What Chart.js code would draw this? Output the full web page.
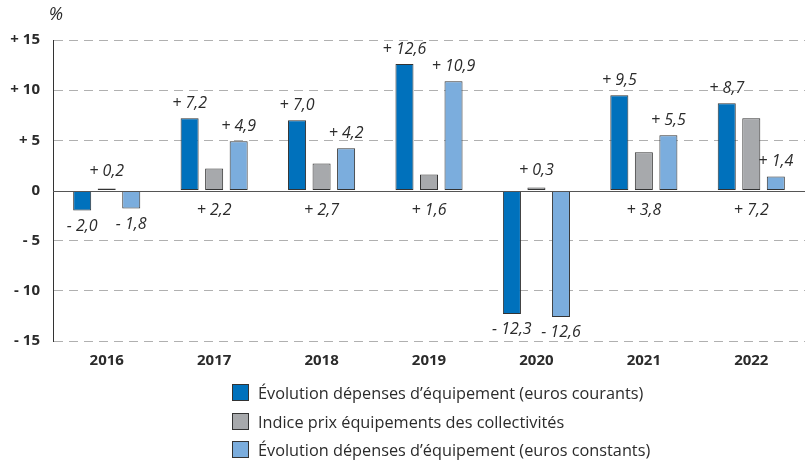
<!DOCTYPE html>
<html><head><meta charset="utf-8">
<script src="https://cdn.jsdelivr.net/npm/chart.js@4"></script>
<style>html,body{margin:0;padding:0;background:#fff}#wrap{position:relative;width:810px;height:463px}</style>
</head><body><div id="wrap"><canvas id="c" width="810" height="463"></canvas></div>
<script>
const categories = ['2016','2017','2018','2019','2020','2021','2022'];
const depCourants = [-2.0, 7.2, 7.0, 12.6, -12.3, 9.5, 8.7];
const indicePrix = [0.2, 2.2, 2.7, 1.6, 0.3, 3.8, 7.2];
const depConstants = [-1.8, 4.9, 4.2, 10.9, -12.6, 5.5, 1.4];
const seriesNames = ['Évolution dépenses d’équipement (euros courants)','Indice prix équipements des collectivités','Évolution dépenses d’équipement (euros constants)'];
const yTicks = [-15,-10,-5,0,5,10,15];
const colors = ['#0071BC','#A7A9AC','#7BADDD'];
const FONT = '"Open Sans", sans-serif';
const TXT = '#2b2b2b';

function fmt(v){ const s = Math.abs(v).toFixed(1).replace('.',','); return (v<0?'- ':'+ ')+s; }
function fmtTick(v){ return v>0?'+ '+v:(v<0?'- '+Math.abs(v):'0'); }

const labelPlugin = {
  id:'labels',
  afterDatasetsDraw(chart){
    const ctx = chart.ctx, y0 = chart.scales.y.getPixelForValue(0);
    ctx.save();
    ctx.strokeStyle='#555'; ctx.lineWidth=1; ctx.setLineDash([]);
    ctx.beginPath(); ctx.moveTo(chart.chartArea.left, Math.round(y0)+0.5); ctx.lineTo(chart.chartArea.right, Math.round(y0)+0.5); ctx.stroke();
    ctx.font = 'italic 16px '+FONT; ctx.fillStyle = TXT; ctx.textAlign='center'; ctx.textBaseline='middle';
    chart.data.datasets.forEach((ds,di)=>{
      const meta = chart.getDatasetMeta(di);
      meta.data.forEach((bar,i)=>{
        const v = ds.data[i];
        let y;
        if(di===1){
          const anyNeg = chart.data.datasets.some(d=>d.data[i]<0);
          y = anyNeg ? bar.y-17 : y0+20;
        } else {
          y = v>=0 ? bar.y-15 : bar.y+16;
        }
        ctx.fillText(fmt(v), bar.x, y);
      });
    });
    ctx.font='italic 18px '+FONT; ctx.fillText('%', 56, 15);
    ctx.textAlign='left'; ctx.font='16.3px '+FONT;
    const rows=[393,422,450];
    chart.data.datasets.forEach((ds,di)=>{
      ctx.fillStyle=ds.backgroundColor; ctx.fillRect(232.5,rows[di]-8.5,16,16);
      ctx.strokeStyle='#333'; ctx.lineWidth=1; ctx.strokeRect(232.5,rows[di]-8.5,16,16);
      ctx.fillStyle=TXT; ctx.fillText(ds.label, 258, rows[di]+1);
    });
    ctx.restore();
  }
};

function build(){
new Chart(document.getElementById('c'),{
  type:'bar',
  data:{labels:categories,datasets:[
    {label:seriesNames[0],data:depCourants,backgroundColor:colors[0]},
    {label:seriesNames[1],data:indicePrix,backgroundColor:colors[1]},
    {label:seriesNames[2],data:depConstants,backgroundColor:colors[2]}
  ].map(d=>Object.assign(d,{borderColor:'#333',borderWidth:1,borderSkipped:false,categoryPercentage:0.685,barPercentage:0.735}))},
  options:{
    responsive:false,animation:false,
    layout:{padding:{top:40,right:5,left:0,bottom:0}},
    plugins:{legend:{display:false},tooltip:{enabled:false}},
    scales:{
      x:{grid:{display:false},border:{display:false},
        ticks:{color:TXT,font:{family:FONT,size:15,weight:'bold'},padding:3},
        afterFit(s){s.height=122;}},
      y:{min:-15,max:15,afterBuildTicks(s){s.ticks=yTicks.map(v=>({value:v}));},
        grid:{drawTicks:false,color:c=>c.tick&&c.tick.value===0?'rgba(0,0,0,0)':'#b0b0b0',lineWidth:1},
        border:{display:true,color:'#333',width:1,dash:[9,6]},
        ticks:{padding:13,color:TXT,font:{family:FONT,size:15,weight:'bold'},callback:v=>fmtTick(v)},
        afterFit(s){s.width=53;}}
    }
  },
  plugins:[labelPlugin]
});
}
Promise.all([
  document.fonts.load('16px "Open Sans"'),
  document.fonts.load('bold 15px "Open Sans"'),
  document.fonts.load('italic 16px "Open Sans"')
]).then(build, build);
</script></body></html>
